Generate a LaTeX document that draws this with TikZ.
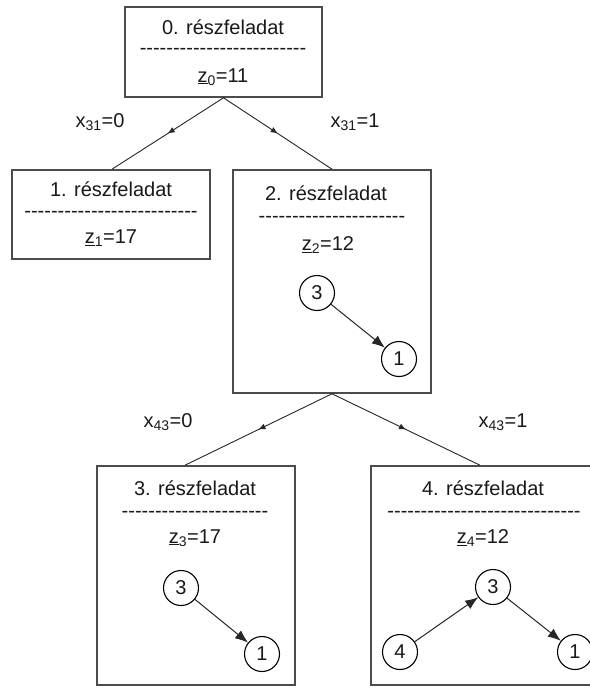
\documentclass[tikz,border=0pt]{standalone}
\usepackage{fontspec}
\setmainfont{Liberation Sans}
\usetikzlibrary{arrows.meta,decorations.markings}
% a row of separate hyphens (kept apart so no dash ligature forms)
\newcommand\hyrow[1]{\foreach\k in {1,...,#1}{\mbox{-}}}
\tikzset{
  lbl/.style={font=\fontsize{20}{24}\selectfont, inner sep=0pt, text=black!90},
  taskbox/.style={draw=black!70, line width=1.6pt, rectangle, inner sep=0pt},
  vertex/.style={circle, draw=black, line width=1.1pt, minimum size=35pt, inner sep=0pt,
    font=\fontsize{20}{24}\selectfont, text=black!90},
  branch/.style={draw=black!85, line width=0.9pt, postaction={decorate},
    decoration={markings, mark=at position 0.5 with {\arrow{Latex[length=7pt,width=6pt]}}}},
  edgearrow/.style={draw=black!85, line width=1pt, -{Latex[length=13pt,width=10pt]}},
}
\begin{document}
\begin{tikzpicture}[x=1pt,y=-1pt]
\useasboundingbox[fill=white] (0,0) rectangle (589,688);

% subproblem boxes
\node[taskbox, minimum width=197pt, minimum height=90pt]  (b0) at (223.5,52) {};
\node[taskbox, minimum width=198pt, minimum height=89pt]  (b1) at (111,214.5) {};
\node[taskbox, minimum width=198pt, minimum height=223pt] (b2) at (332,281.5) {};
\node[taskbox, minimum width=198pt, minimum height=219pt] (b3) at (196,575.5) {};
\node[taskbox, minimum width=224pt, minimum height=219pt] (b4) at (483,575.5) {};

% box contents
\node[lbl] (t0) at (223,27) {0. részfeladat};
\node[lbl] (d0) at (223,51) {\hyrow{25}};
\node[lbl] (z0) at (223,77) {\underline{z}\textsubscript{0}=11};

\node[lbl] (t1) at (111,189) {1. részfeladat};
\node[lbl] (d1) at (111,214) {\hyrow{26}};
\node[lbl] (z1) at (111,238) {\underline{z}\textsubscript{1}=17};

\node[lbl] (t2) at (326,193) {2. részfeladat};
\node[lbl] (d2) at (332,219) {\hyrow{22}};
\node[lbl] (z2) at (328,245) {\underline{z}\textsubscript{2}=12};

\node[lbl] (t3) at (195,488) {3. részfeladat};
\node[lbl] (d3) at (195,514) {\hyrow{22}};
\node[lbl] (z3) at (195,538) {\underline{z}\textsubscript{3}=17};

\node[lbl] (t4) at (483,488) {4. részfeladat};
\node[lbl] (d4) at (484,514) {\hyrow{29}};
\node[lbl] (z4) at (483,538) {\underline{z}\textsubscript{4}=12};

% graphs inside the boxes
\node[vertex] (p3) at (317,293) {3};
\node[vertex] (p1) at (399,359) {1};
\draw[edgearrow] (p3) -- (p1);

\node[vertex] (q3) at (181,588) {3};
\node[vertex] (q1) at (262,654) {1};
\draw[edgearrow] (q3) -- (q1);

\node[vertex] (r3) at (493,587) {3};
\node[vertex] (r4) at (400,652) {4};
\node[vertex] (r1) at (575,652) {1};
\draw[edgearrow] (r4) -- (r3);
\draw[edgearrow] (r3) -- (r1);

% branching
\draw[branch] (b0.south) -- ([xshift=1pt]b1.north);
\draw[branch] (b0.south) -- (b2.north);
\draw[branch] (b2.south) -- ([xshift=-11pt]b3.north);
\draw[branch] (b2.south) -- ([xshift=-3pt]b4.north);

% branching labels
\node[lbl] (l1) at (100,122) {x\textsubscript{31}=0};
\node[lbl] (l2) at (355,122) {x\textsubscript{31}=1};
\node[lbl] (l3) at (168,422) {x\textsubscript{43}=0};
\node[lbl] (l4) at (503,422) {x\textsubscript{43}=1};
\end{tikzpicture}
\end{document}
